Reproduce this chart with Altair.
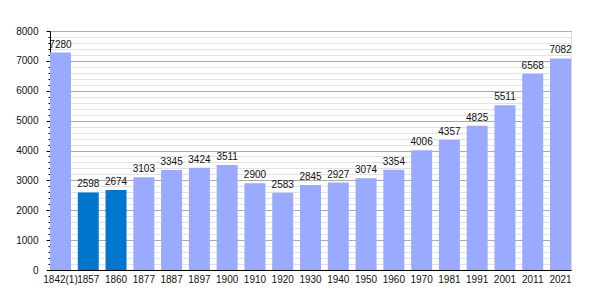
import altair as alt
import pandas as pd

years = ["1842(1)", "1857", "1860", "1877", "1887", "1897", "1900", "1910", "1920",
         "1930", "1940", "1950", "1960", "1970", "1981", "1991", "2001", "2011", "2021"]
population = [7280, 2598, 2674, 3103, 3345, 3424, 3511, 2900, 2583,
              2845, 2927, 3074, 3354, 4006, 4357, 4825, 5511, 6568, 7082]
highlight = [False, True, True, False, False, False, False, False, False,
             False, False, False, False, False, False, False, False, False, False]
y_ticks = list(range(0, 8001, 200))

df = pd.DataFrame({"year": years, "pop": population, "hl": highlight})

FONT = "Liberation Sans"

x = alt.X("year:N", sort=years, title=None,
          scale=alt.Scale(paddingInner=0.245, paddingOuter=0),
          axis=alt.Axis(labelAngle=0, ticks=False, labelPadding=4, domainColor="#000",
                        labelFont=FONT, labelFontSize=10, labelColor="#111",
                        domainWidth=1))
y = alt.Y("pop:Q", title=None,
          scale=alt.Scale(domain=[0, 8000], nice=False),
          axis=alt.Axis(values=y_ticks, tickCount=41,
                        labelExpr="datum.value % 1000 == 0 ? datum.label : ''",
                        labelOverlap=False, labelBound=False,
                        format="d",
                        gridColor={"condition": {"test": "datum.value % 1000 == 0", "value": "#aaaaaa"}, "value": "#e2e2e2"},
                        tickSize={"condition": {"test": "datum.value % 1000 == 0", "value": 4}, "value": 2},
                        tickColor="#000", domainColor="#000",
                        labelPadding=8, labelFont=FONT, labelFontSize=10, labelColor="#111"))

bars = alt.Chart(df).mark_bar().encode(
    x=x, y=y,
    color=alt.Color("hl:N", scale=alt.Scale(domain=[False, True], range=["#99aaff", "#0077cc"]), legend=None),
)

text = alt.Chart(df).mark_text(dy=-5, baseline="alphabetic", font=FONT, fontSize=10, color="#111").encode(
    x=x, y=y,
    text="pop:Q",
)

chart = alt.layer(bars, text).properties(
    width=521, height=239,
    autosize=alt.AutoSizeParams(type="none"),
    padding={"left": 50, "top": 31, "right": 29, "bottom": 30},
).configure_view(stroke=None).configure(background="white")

chart.save("out.html", embed_options={"renderer": "svg", "actions": False})
